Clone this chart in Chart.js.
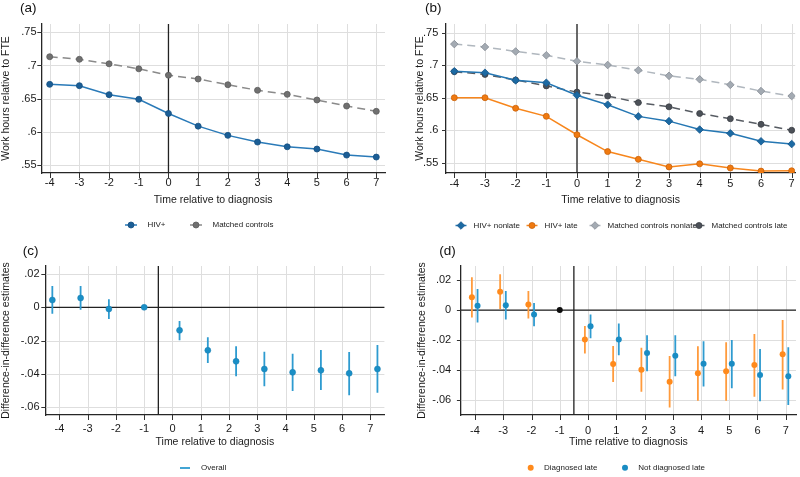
<!DOCTYPE html>
<html>
<head>
<meta charset="utf-8">
<script src="https://cdn.jsdelivr.net/npm/chart.js@4.4.1/dist/chart.umd.min.js"></script>
<style>
  html, body { margin: 0; padding: 0; background: #fff; }
  #wrap { position: relative; width: 800px; height: 477px; overflow: hidden; }
  canvas { position: absolute; }
</style>
</head>
<body>
<div id="wrap">
  <canvas id="pa" width="400" height="240" style="left:0;top:0"></canvas>
  <canvas id="pb" width="400" height="240" style="left:400px;top:0"></canvas>
  <canvas id="pc" width="400" height="237" style="left:0;top:240px"></canvas>
  <canvas id="pd" width="400" height="237" style="left:400px;top:240px"></canvas>
</div>
<script>
// ---- data ----
const periods = [-4, -3, -2, -1, 0, 1, 2, 3, 4, 5, 6, 7];
const yTicksLevel = [.55, .6, .65, .7, .75];
const yTicksDiD = [-.06, -.04, -.02, 0, .02];

// (a) mean work hours relative to FTE
const hivPos = [.6716, .6696, .6560, .6490, .6277, .6086, .5947, .5846, .5775, .5741, .5650, .5620];
const matchedCtrl = [.7132, .7093, .7025, .6950, .6853, .6796, .6710, .6626, .6565, .6480, .6389, .6309];

// (b) split by late diagnosis
const hivNonlate = [.6906, .6884, .6767, .6730, .6537, .6393, .6213, .6140, .6011, .5953, .5830, .5788];
const hivLate = [.6500, .6500, .6338, .6214, .5931, .5672, .5553, .5436, .5484, .5420, .5372, .5377];
const ctrlNonlate = [.7324, .7280, .7211, .7152, .7060, .7003, .6922, .6836, .6783, .6698, .6602, .6526];
const ctrlLate = [.6900, .6858, .6772, .6682, .6586, .6526, .6425, .6360, .6257, .6177, .6091, .6000];

// (c) DiD estimates, overall
const overallEst = [.0044, .0056, -.0010, 0, -.0138, -.0258, -.0324, -.0370, -.0390, -.0378, -.0396, -.0370];
const overallLo = [-.0038, -.0014, -.0070, 0, -.0198, -.0334, -.0414, -.0474, -.0502, -.0496, -.0528, -.0512];
const overallHi = [.0128, .0128, .0048, 0, -.0082, -.0180, -.0234, -.0266, -.0278, -.0256, -.0268, -.0226];

// (d) DiD estimates by late diagnosis (t = -1 is the reference period)
const lateEst = [.0085, .0122, .0038, null, -.0195, -.0358, -.0397, -.0476, -.0420, -.0407, -.0365, -.0293];
const lateLo = [-.0049, .0007, -.0055, null, -.0289, -.0478, -.0543, -.0647, -.0603, -.0603, -.0576, -.0527];
const lateHi = [.0218, .0238, .0127, null, -.0105, -.0238, -.0251, -.0305, -.0240, -.0213, -.0158, -.0065];
const notLateEst = [.0029, .0033, -.0029, null, -.0107, -.0195, -.0285, -.0303, -.0356, -.0356, -.0431, -.0440];
const notLateLo = [-.0082, -.0062, -.0107, null, -.0187, -.0300, -.0407, -.0440, -.0507, -.0520, -.0605, -.0631];
const notLateHi = [.0140, .0127, .0047, null, -.0029, -.0089, -.0167, -.0167, -.0207, -.0198, -.0258, -.0247];
const refPeriod = -1, refValue = 0;

// ---- helpers ----
const FONT = "'Liberation Sans', Arial, Helvetica, sans-serif";
Chart.defaults.font.family = FONT;
Chart.defaults.color = '#1a1a1a';
Chart.defaults.animation = false;

const xy = (xs, ys) => xs.map((x, i) => ({ x, y: ys[i] }));
const fmt = v => v === 0 ? '0' : String(+v.toFixed(3)).replace(/^(-?)0\./, '$1.');
// vertical CI segments, broken by nulls
const ciSegs = (xs, lo, hi) => xs.flatMap((x, i) => lo[i] === null ? [] : [{ x, y: lo[i] }, { x, y: hi[i] }, { x, y: null }]);

function marker(ctx, style, x, y, r, fill, stroke, bw) {
  ctx.beginPath();
  if (style === 'rectRot') {
    ctx.moveTo(x, y - r); ctx.lineTo(x + r, y); ctx.lineTo(x, y + r); ctx.lineTo(x - r, y); ctx.closePath();
  } else {
    ctx.arc(x, y, r, 0, Math.PI * 2);
  }
  ctx.fillStyle = fill; ctx.fill();
  if (bw) { ctx.lineWidth = bw; ctx.strokeStyle = stroke; ctx.stroke(); }
}

// grid, tick marks, y labels and reference lines in Stata style
const stataFrame = {
  id: 'stataFrame',
  beforeDatasetsDraw(chart, args, o) {
    const { ctx, chartArea: a, scales: { x, y } } = chart;
    const px = v => Math.round(x.getPixelForValue(v)) + 0.5;
    const py = v => Math.round(y.getPixelForValue(v)) + 0.5;
    ctx.save();
    ctx.lineWidth = 1;
    ctx.strokeStyle = '#dedede';
    ctx.beginPath();
    x.ticks.forEach(t => { ctx.moveTo(px(t.value), a.top); ctx.lineTo(px(t.value), a.bottom - 1); });
    y.ticks.forEach(t => { ctx.moveTo(a.left + 1, py(t.value)); ctx.lineTo(a.right, py(t.value)); });
    ctx.stroke();
    ctx.strokeStyle = '#333';
    ctx.beginPath();
    x.ticks.forEach(t => { ctx.moveTo(px(t.value), a.bottom); ctx.lineTo(px(t.value), a.bottom + 5); });
    y.ticks.forEach(t => { ctx.moveTo(a.left - 4, py(t.value)); ctx.lineTo(a.left, py(t.value)); });
    ctx.stroke();
    ctx.strokeStyle = '#222'; ctx.lineWidth = 1.3;
    ctx.beginPath();
    if (o.refX !== undefined) { const p = x.getPixelForValue(o.refX); ctx.moveTo(p, a.top); ctx.lineTo(p, a.bottom); }
    if (o.refY !== undefined) { const p = y.getPixelForValue(o.refY); ctx.moveTo(a.left, p); ctx.lineTo(a.right, p); }
    ctx.stroke();
    ctx.restore();
  },
  afterDraw(chart, args, o) {
    const { ctx, chartArea: a, scales: { y } } = chart;
    ctx.save();
    ctx.font = '11px ' + FONT; ctx.fillStyle = '#1a1a1a';
    ctx.textAlign = 'right'; ctx.textBaseline = 'middle';
    y.ticks.forEach(t => ctx.fillText(fmt(t.value), a.left - 4 - o.ypad, y.getPixelForValue(t.value)));
    ctx.restore();
  }
};

const panelTag = {
  id: 'panelTag',
  afterDraw(chart, args, o) {
    const ctx = chart.ctx;
    ctx.save();
    ctx.font = '13.5px ' + FONT; ctx.fillStyle = '#111'; ctx.textBaseline = 'middle';
    ctx.fillText(o.text, o.x, o.y);
    ctx.restore();
  }
};

const keyLegend = {
  id: 'keyLegend',
  afterDraw(chart, args, o) {
    const ctx = chart.ctx;
    ctx.save();
    ctx.font = '8px ' + FONT; ctx.textBaseline = 'middle';
    chart.data.datasets.forEach(ds => {
      if (ds.keyX === undefined) return;
      const x = ds.keyX, y = o.y;
      if (ds.keyLine) {
        ctx.strokeStyle = ds.borderColor; ctx.lineWidth = ds.borderWidth;
        ctx.setLineDash([]);
        ctx.beginPath(); ctx.moveTo(x - o.len / 2, y); ctx.lineTo(x + o.len / 2, y); ctx.stroke();
      }
      if (ds.keyPoint) marker(ctx, ds.pointStyle, x, y, ds.pointRadius, ds.pointBackgroundColor, ds.pointBorderColor, ds.pointBorderWidth);
      ctx.fillStyle = '#222';
      ctx.fillText(ds.label, x + o.gap, y);
    });
    ctx.restore();
  }
};

function scales(o) {
  const border = { color: '#262626', width: 1.3 };
  return {
    x: {
      type: 'linear', min: o.xmin, max: o.xmax,
      afterBuildTicks: s => { s.ticks = periods.map(v => ({ value: v })); },
      afterFit: s => { s.height = o.xh; s.paddingLeft = 0; s.paddingRight = 0; },
      grid: { display: false, tickLength: 5 },
      border: { ...border },
      ticks: { font: { size: 11 }, padding: o.xpad, maxRotation: 0, autoSkip: false, callback: v => String(v) },
      title: { display: true, text: 'Time relative to diagnosis', font: { size: 10.5 }, padding: 0 }
    },
    y: {
      type: 'linear', min: o.ymin, max: o.ymax,
      afterBuildTicks: s => { s.ticks = o.yTicks.map(v => ({ value: v })); },
      afterFit: s => { s.width = o.yw; s.paddingTop = 0; s.paddingBottom = 0; },
      grid: { display: false, tickLength: 4 },
      border: { ...border },
      ticks: { display: false },
      title: { display: true, text: o.ytitle, font: { size: 10.5 }, padding: { top: o.ytp, bottom: 0 } }
    }
  };
}

function panel(id, datasets, o) {
  const ch = new Chart(document.getElementById(id), {
    type: 'line',
    data: { datasets },
    options: {
      responsive: false,
      layout: { padding: o.pad },
      scales: scales(o),
      plugins: {
        legend: { display: false },
        tooltip: { enabled: false },
        stataFrame: { refX: o.ref.x, refY: o.ref.y, ypad: o.ypad },
        panelTag: o.tag,
        keyLegend: o.key
      },
      elements: { line: { tension: 0 } }
    },
    plugins: [stataFrame, panelTag, keyLegend]
  });
  // pin the first tick and the tick spacing to the reference's pixel grid
  const a = ch.chartArea;
  const xmin = periods[0] - (o.firstTickPx - a.left) / o.step;
  ch.options.scales.x.min = xmin;
  ch.options.scales.x.max = xmin + (a.right - a.left) / o.step;
  ch.update();
  return ch;
}

// ---- (a) ----
panel('pa', [
  { label: 'HIV+', data: xy(periods, hivPos), borderColor: '#2a7ab8', borderWidth: 1.5,
    pointStyle: 'circle', pointRadius: 3, pointBackgroundColor: '#1b5e96', pointBorderColor: '#154f80', pointBorderWidth: 0.8,
    keyX: 131, keyLine: true, keyPoint: true },
  { label: 'Matched controls', data: xy(periods, matchedCtrl), borderColor: '#8a8a8a', borderWidth: 1.5, borderDash: [8, 5],
    pointStyle: 'circle', pointRadius: 3, pointBackgroundColor: '#707070', pointBorderColor: '#5c5c5c', pointBorderWidth: 0.8,
    keyX: 196, keyLine: true, keyPoint: true }
], {
  xmin: -4.283, xmax: 7.293, ymin: .538, ymax: .7625, yTicks: yTicksLevel, firstTickPx: 49.7, step: 29.69,
  ytitle: 'Work hours relative to FTE', yw: 41.3, ytp: 0, ypad: 0.7, xh: 33.3, xpad: -1.6,
  pad: { top: 24, right: 15, bottom: 33.7, left: 0 },
  ref: { x: 0 }, tag: { text: '(a)', x: 20, y: 8 }, key: { y: 225, gap: 16.5, len: 12 }
});

// ---- (b) ----
panel('pb', [
  { label: 'HIV+ nonlate', data: xy(periods, hivNonlate), borderColor: '#2577b3', borderWidth: 1.5,
    pointStyle: 'rectRot', pointRadius: 3.8, pointBackgroundColor: '#1c6aa3', pointBorderColor: '#15568a', pointBorderWidth: 0.8,
    keyX: 61, keyLine: true, keyPoint: true },
  { label: 'HIV+ late', data: xy(periods, hivLate), borderColor: '#f7861c', borderWidth: 1.5,
    pointStyle: 'circle', pointRadius: 3, pointBackgroundColor: '#f07a10', pointBorderColor: '#c9620a', pointBorderWidth: 0.8,
    keyX: 132, keyLine: true, keyPoint: true },
  { label: 'Matched controls nonlate', data: xy(periods, ctrlNonlate), borderColor: '#b0b7be', borderWidth: 1.5, borderDash: [8, 5],
    pointStyle: 'rectRot', pointRadius: 3.8, pointBackgroundColor: '#a3aab2', pointBorderColor: '#858c94', pointBorderWidth: 0.8,
    keyX: 195, keyLine: true, keyPoint: true },
  { label: 'Matched controls late', data: xy(periods, ctrlLate), borderColor: '#575c63', borderWidth: 1.5, borderDash: [8, 5],
    pointStyle: 'circle', pointRadius: 3, pointBackgroundColor: '#4c5158', pointBorderColor: '#3a3e44', pointBorderWidth: 0.8,
    keyX: 299, keyLine: true, keyPoint: true }
], {
  xmin: -4.27, xmax: 7.27, ymin: .5343, ymax: .7633, yTicks: yTicksLevel, firstTickPx: 54.3, step: 30.67,
  ytitle: 'Work hours relative to FTE', yw: 46, ytp: 14.2, ypad: 3.7, xh: 33.3, xpad: -1.0,
  pad: { top: 24, right: 0, bottom: 33.7, left: 0 },
  ref: { x: 0 }, tag: { text: '(b)', x: 25, y: 8 }, key: { y: 225.5, gap: 12.5, len: 11 }
});

// ---- (c) ----
const offC = t => t === refPeriod ? t : (t < 0 ? t - 0.25 : t + 0.25);
const xC = periods.map(offC);
panel('pc', [
  { label: 'Overall est', data: xy(xC, overallEst), showLine: false,
    pointStyle: 'circle', pointRadius: 3, pointBackgroundColor: '#1a8fc6', pointBorderColor: '#167cb0', pointBorderWidth: 0.5, order: 1 },
  { label: 'Overall', data: ciSegs(xC, overallLo, overallHi), borderColor: '#2e9bd0', borderWidth: 1.8, pointRadius: 0, spanGaps: false, order: 2,
    keyX: 185, keyLine: true, keyPoint: false }
], {
  xmin: -4.5, xmax: 7.5, ymin: -.0646, ymax: .0248, yTicks: yTicksDiD, firstTickPx: 59.4, step: 28.27,
  ytitle: 'Difference-in-difference estimates', yw: 45.3, ytp: -0.5, ypad: 1.7, xh: 33, xpad: 2.6,
  pad: { top: 26, right: 15.6, bottom: 29, left: 0 },
  ref: { x: -0.5, y: 0 }, tag: { text: '(c)', x: 22.7, y: 10.8 }, key: { y: 228, gap: 16, len: 10 }
});

// ---- (d) ----
const xLate = periods.map(t => t - 0.11);
const xNotLate = periods.map(t => t + 0.09);
panel('pd', [
  { label: 'Diagnosed late', data: xy(xLate, lateEst), showLine: false,
    pointStyle: 'circle', pointRadius: 3, pointBackgroundColor: '#ff8a1c', pointBorderWidth: 0, order: 1,
    keyX: 130.7, keyPoint: true },
  { label: 'Not diagnosed late', data: xy(xNotLate, notLateEst), showLine: false,
    pointStyle: 'circle', pointRadius: 3, pointBackgroundColor: '#1a8cc3', pointBorderWidth: 0, order: 1,
    keyX: 225, keyPoint: true },
  { label: 'Reference', data: [{ x: refPeriod, y: refValue }], showLine: false,
    pointStyle: 'circle', pointRadius: 3, pointBackgroundColor: '#0d0d0d', pointBorderWidth: 0, order: 1 },
  { label: 'Late CI', data: ciSegs(xLate, lateLo, lateHi), borderColor: '#ff9b3d', borderWidth: 1.8, pointRadius: 0, spanGaps: false, order: 2 },
  { label: 'Not late CI', data: ciSegs(xNotLate, notLateLo, notLateHi), borderColor: '#2f9bd0', borderWidth: 1.8, pointRadius: 0, spanGaps: false, order: 2 }
], {
  xmin: -4.5, xmax: 7.5, ymin: -.0697, ymax: .0293, yTicks: yTicksDiD, firstTickPx: 75.0, step: 28.25,
  ytitle: 'Difference-in-difference estimates', yw: 60.9, ytp: 15.7, ypad: 5.7, xh: 33, xpad: 4.2,
  pad: { top: 26, right: 0.2, bottom: 29, left: 0 },
  ref: { x: -0.5, y: 0 }, tag: { text: '(d)', x: 39.3, y: 10.8 }, key: { y: 227.7, gap: 13.3, len: 10 }
});
</script>
</body>
</html>
